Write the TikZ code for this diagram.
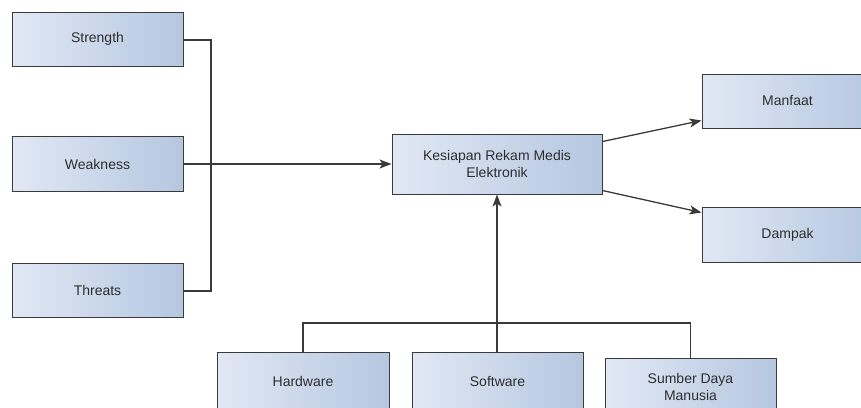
\documentclass[tikz,border=0pt]{standalone}
\usepackage{fontspec}
\setmainfont{Liberation Sans}
\usetikzlibrary{arrows.meta}
\definecolor{boxline}{HTML}{3A3A3A}
\definecolor{boxleft}{HTML}{E1E8F4}
\definecolor{boxright}{HTML}{B5C7E1}
\definecolor{txt}{HTML}{2E2E2E}
\tikzset{
  block/.style={draw=boxline, line width=1pt, left color=boxleft, right color=boxright,
    minimum width=171pt, minimum height=54pt, inner sep=0pt, align=center,
    text=txt, font=\fontsize{14}{16.5}\selectfont},
  wire/.style={draw=boxline, line width=1.3pt},
  arr/.style={wire, -{Stealth[length=12pt,width=9pt,inset=3pt]}}
}
\begin{document}
\begin{tikzpicture}[x=1pt,y=-1pt]
  \useasboundingbox (0,0) rectangle (861,407);
  \clip (0,0) rectangle (861,407);

  % left column
  \node[block] (s) at (97.5,39) {Strength};
  \node[block, minimum height=55pt] (w) at (97.5,164) {Weakness};
  \node[block] (t) at (97.5,290) {Threats};

  % centre
  \node[block, minimum width=210pt, minimum height=60pt] (k) at (497,164)
    {Kesiapan Rekam Medis\\Elektronik};

  % right column
  \node[block] (m) at (787.5,101) {Manfaat};
  \node[block, minimum height=55pt] (d) at (787.5,234.5) {Dampak};

  % bottom row
  \node[block, minimum width=172pt, minimum height=58pt] (h) at (303,381) {Hardware};
  \node[block, minimum height=58pt] (sw) at (497.5,381) {Software};
  \node[block, minimum height=58pt] (sdm) at (690.5,387) {Sumber Daya\\Manusia};

  % junction points
  \coordinate (jl) at (211,164);
  \coordinate (jb) at (497,323);

  % left bracket and arrow into centre
  \draw[wire] ([shift={(0,1)}]s.east) -| (jl) |- ([shift={(0,1)}]t.east);
  \draw[arr] (w.east) -- (w.east -| k.west);

  % bottom bracket and arrow into centre
  \draw[wire] (h.north) |- (jb) -| (sdm.north);
  \draw[arr] (sw.north -| jb) -- (k.south -| jb);

  % outgoing arrows
  \draw[arr] ([shift={(0,8)}]k.north east) -- ([shift={(0,-8)}]m.south west);
  \draw[arr] ([shift={(0,-4)}]k.south east) -- ([shift={(0,6)}]d.north west);
\end{tikzpicture}
\end{document}
